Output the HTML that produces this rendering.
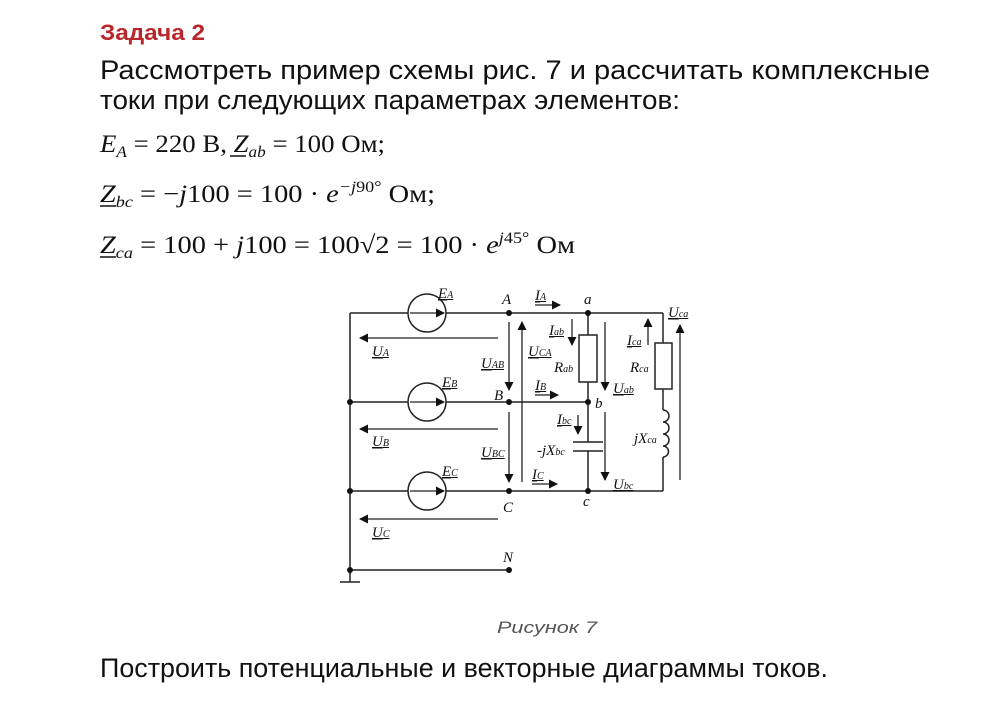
<!DOCTYPE html>
<html><head><meta charset="utf-8"><style>
html,body{margin:0;padding:0;background:#fff;width:1000px;height:705px;overflow:hidden}
svg{display:block}
.s{font-family:"Liberation Sans",sans-serif;fill:#111}
.m{font-family:"Liberation Serif",serif;fill:#111;font-size:25px}
.c{font-family:"Liberation Serif",serif;font-style:italic;fill:#111;font-size:15px}
.sub{font-size:10px}
</style></head><body>
<svg width="1000" height="705" viewBox="0 0 1000 705" xmlns="http://www.w3.org/2000/svg">
<defs><marker id="ar" markerWidth="9" markerHeight="9" refX="8" refY="4.5" orient="auto" markerUnits="userSpaceOnUse"><path d="M0,0 L9,4.5 L0,9 z" fill="#111"/></marker></defs>
<text x="100" y="40" class="s" font-size="22" font-weight="bold" style="fill:#b8262b" textLength="105" lengthAdjust="spacingAndGlyphs">Задача 2</text>
<text x="100" y="79" class="s" font-size="27" textLength="830" lengthAdjust="spacingAndGlyphs">Рассмотреть пример схемы рис. 7 и рассчитать комплексные</text>
<text x="100" y="109" class="s" font-size="27" textLength="580" lengthAdjust="spacingAndGlyphs">токи при следующих параметрах элементов:</text>
<text x="100" y="152" class="m" textLength="285" lengthAdjust="spacingAndGlyphs"><tspan font-style="italic">E</tspan><tspan font-style="italic" font-size="16" dy="5">A</tspan><tspan dy="-5"> = 220 В, </tspan><tspan font-style="italic">Z</tspan><tspan font-style="italic" font-size="16" dy="5">ab</tspan><tspan dy="-5"> = 100 Ом;</tspan></text>
<line x1="230" y1="156" x2="246" y2="156" stroke="#111" stroke-width="1.5"/>
<text x="100" y="202" class="m" textLength="335" lengthAdjust="spacingAndGlyphs"><tspan font-style="italic">Z</tspan><tspan font-style="italic" font-size="16" dy="5">bc</tspan><tspan dy="-5"> = −</tspan><tspan font-style="italic">j</tspan><tspan>100 = 100 · </tspan><tspan font-style="italic">e</tspan><tspan font-size="16" dy="-10"><tspan font-style="italic">−j</tspan>90°</tspan><tspan dy="10"> Ом;</tspan></text>
<line x1="100" y1="206" x2="116" y2="206" stroke="#111" stroke-width="1.5"/>
<text x="100" y="253" class="m" textLength="475" lengthAdjust="spacingAndGlyphs"><tspan font-style="italic">Z</tspan><tspan font-style="italic" font-size="16" dy="5">ca</tspan><tspan dy="-5"> = 100 + </tspan><tspan font-style="italic">j</tspan><tspan>100 = 100√2 = 100 · </tspan><tspan font-style="italic">e</tspan><tspan font-size="16" dy="-10"><tspan font-style="italic">j</tspan>45°</tspan><tspan dy="10"> Ом</tspan></text>
<line x1="100" y1="257" x2="116" y2="257" stroke="#111" stroke-width="1.5"/>

<g stroke="#222" stroke-width="1.5" fill="none">
<line x1="350" y1="313" x2="350" y2="574"/>
<line x1="350" y1="313" x2="408" y2="313"/><line x1="446" y1="313" x2="663" y2="313"/>
<line x1="350" y1="402" x2="408" y2="402"/><line x1="446" y1="402" x2="588" y2="402"/>
<line x1="350" y1="491" x2="408" y2="491"/><line x1="446" y1="491" x2="663" y2="491"/>
<line x1="350" y1="570" x2="509" y2="570"/>
<line x1="340" y1="582" x2="360" y2="582"/><line x1="350" y1="570" x2="350" y2="582"/>
<circle cx="427" cy="313" r="19"/><circle cx="427" cy="402" r="19"/><circle cx="427" cy="491" r="19"/>
<line x1="588" y1="313" x2="588" y2="335"/><rect x="579" y="335" width="18" height="47"/><line x1="588" y1="382" x2="588" y2="442"/>
<line x1="573" y1="442" x2="603" y2="442"/><line x1="573" y1="451" x2="603" y2="451"/><line x1="588" y1="451" x2="588" y2="491"/>
<line x1="663" y1="313" x2="663" y2="343"/><rect x="655" y="343" width="17" height="46"/><line x1="663" y1="389" x2="663" y2="410"/>
<path d="M663,410 a6,6 0 0 1 0,12 a6,6 0 0 1 0,12 a6,6 0 0 1 0,12 a5,5 0 0 1 0,11"/><line x1="663" y1="457" x2="663" y2="491"/>
</g>
<g stroke="#222" stroke-width="1.3" marker-end="url(#ar)">
<line x1="410" y1="313" x2="444" y2="313"/><line x1="410" y1="402" x2="444" y2="402"/><line x1="410" y1="491" x2="444" y2="491"/>
<line x1="498" y1="338" x2="360" y2="338"/><line x1="498" y1="429" x2="360" y2="429"/><line x1="498" y1="519" x2="360" y2="519"/>
<line x1="509" y1="322" x2="509" y2="390"/><line x1="509" y1="412" x2="509" y2="482"/><line x1="522" y1="482" x2="522" y2="322"/>
<line x1="605" y1="322" x2="605" y2="390"/><line x1="605" y1="412" x2="605" y2="480"/><line x1="680" y1="480" x2="680" y2="325"/>
<line x1="572" y1="319" x2="572" y2="345"/><line x1="578" y1="415" x2="578" y2="434"/><line x1="648" y1="345" x2="648" y2="319"/>
<line x1="535" y1="305" x2="560" y2="305"/><line x1="535" y1="395" x2="558" y2="395"/><line x1="532" y1="484" x2="557" y2="484"/>
</g>
<g fill="#111">
<circle cx="509" cy="313" r="3"/><circle cx="588" cy="313" r="3"/><circle cx="350" cy="402" r="3"/><circle cx="509" cy="402" r="3"/><circle cx="588" cy="402" r="3"/>
<circle cx="350" cy="491" r="3"/><circle cx="509" cy="491" r="3"/><circle cx="588" cy="491" r="3"/><circle cx="350" cy="570" r="3"/><circle cx="509" cy="570" r="3"/>
</g>
<g class="c">
<text x="438" y="298" text-decoration="underline">E<tspan class="sub">A</tspan></text>
<text x="442" y="387" text-decoration="underline">E<tspan class="sub">B</tspan></text>
<text x="442" y="476" text-decoration="underline">E<tspan class="sub">C</tspan></text>
<text x="502" y="304">A</text><text x="494" y="400">B</text><text x="503" y="512">C</text><text x="503" y="562">N</text>
<text x="584" y="304">a</text><text x="595" y="408">b</text><text x="583" y="506">c</text>
<text x="535" y="300" text-decoration="underline">I<tspan class="sub">A</tspan></text>
<text x="535" y="390" text-decoration="underline">I<tspan class="sub">B</tspan></text>
<text x="532" y="479" text-decoration="underline">I<tspan class="sub">C</tspan></text>
<text x="372" y="356" text-decoration="underline">U<tspan class="sub">A</tspan></text>
<text x="372" y="446" text-decoration="underline">U<tspan class="sub">B</tspan></text>
<text x="372" y="537" text-decoration="underline">U<tspan class="sub">C</tspan></text>
<text x="481" y="368" text-decoration="underline">U<tspan class="sub">AB</tspan></text>
<text x="481" y="457" text-decoration="underline">U<tspan class="sub">BC</tspan></text>
<text x="528" y="356" text-decoration="underline">U<tspan class="sub">CA</tspan></text>
<text x="549" y="335" text-decoration="underline">I<tspan class="sub">ab</tspan></text>
<text x="554" y="372">R<tspan class="sub">ab</tspan></text>
<text x="613" y="393" text-decoration="underline">U<tspan class="sub">ab</tspan></text>
<text x="557" y="424" text-decoration="underline">I<tspan class="sub">bc</tspan></text>
<text x="537" y="455">-jX<tspan class="sub">bc</tspan></text>
<text x="613" y="489" text-decoration="underline">U<tspan class="sub">bc</tspan></text>
<text x="627" y="345" text-decoration="underline">I<tspan class="sub">ca</tspan></text>
<text x="630" y="372">R<tspan class="sub">ca</tspan></text>
<text x="634" y="443">jX<tspan class="sub">ca</tspan></text>
<text x="668" y="317" text-decoration="underline">U<tspan class="sub">ca</tspan></text>
</g>
<text x="497" y="633" class="s" font-size="17" font-style="italic" style="fill:#555" textLength="100" lengthAdjust="spacingAndGlyphs">Рисунок 7</text>
<text x="100" y="677" class="s" font-size="27" textLength="728" lengthAdjust="spacingAndGlyphs">Построить потенциальные и векторные диаграммы токов.</text>
</svg>
</body></html>
